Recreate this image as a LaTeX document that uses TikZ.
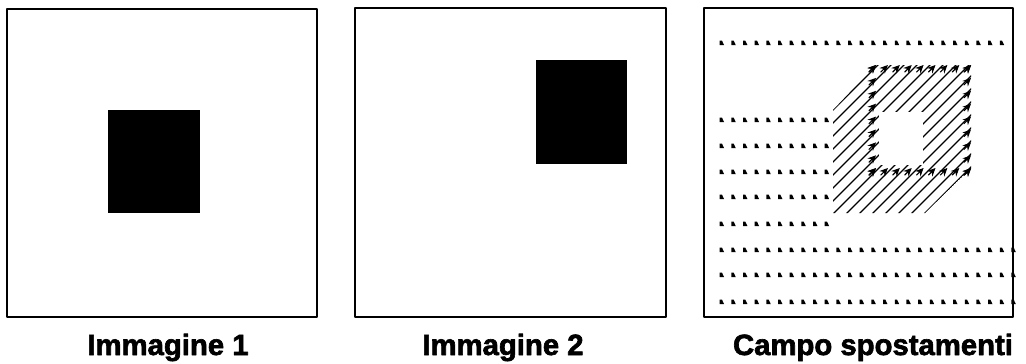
\documentclass[tikz,border=0pt]{standalone}
\usepackage{fontspec}
\setmainfont{Liberation Sans}[BoldFeatures={FakeBold=2.2}]
\usetikzlibrary{arrows.meta}
\begin{document}
\begin{tikzpicture}[x=0.03cm, y=-0.03cm, line cap=round, line join=round, >={Stealth[length=7pt,width=6.5pt]},
	frame/.style={draw=black, line width=1.4pt},
	field/.style={line width=1pt},
	lab/.style={anchor=base, inner sep=0pt, font=\fontsize{25}{30}\selectfont\bfseries}]
	\useasboundingbox (0,0) rectangle (1026,364);
	\path (7,9) coordinate (A1) (317,317) coordinate (B1)
	(355,8) coordinate (A2) (666,317) coordinate (B2)
	(704,8) coordinate (A3) (1013,317) coordinate (B3);
	
	% the two images
	\fill (108,110) rectangle (200,213);
	\fill (536,60) rectangle (627,164);
	\draw[frame] (A1) rectangle (B1);
	\draw[frame] (A2) rectangle (B2);
	
	% displacement field
	\foreach \y/\n in {43/24,120/9,146/9,172/9,197/9,224/9,250/25,275/25,302/25}
		\foreach \i in {0,...,\n}
			\fill ({721.7+11.67*\i-2},{\y-2.5}) -- ++(2.2,0) -- ++(2.2,4.6) -- ++(-4.4,0) -- cycle;
	\begin{scope}
		\clip (833,213) -- (833,110) -- (876,65) -- (971,65) -- (971,168) -- (925,213) -- cycle;
		\foreach \c in {943,956,...,1139}
			\draw[field] ({\c-300},300) -- (\c,0);
	\end{scope}
	\fill[white] (879,112) rectangle (923,165);
	\foreach \i in {0,...,8} {
		\draw[field,->] ({876+11.9*\i-7},72) -- ({876+11.9*\i},65);
		\draw[field,->] ({876+11.9*\i-7},175) -- ({876+11.9*\i},168);
		\draw[field,->] (869,{65+12.9*\i+7}) -- (876,{65+12.9*\i});
		\draw[field,->] (964,{65+12.9*\i+7}) -- (971,{65+12.9*\i});
	}
	\draw[frame] (A3) rectangle (B3);
	
	\node[lab] (lab1) at (168,355) {Immagine 1};
	\node[lab] (lab2) at (503,355) {Immagine 2};
	\node[lab] (lab3) at (873,355) {Campo spostamenti};
\end{tikzpicture}
\end{document}
